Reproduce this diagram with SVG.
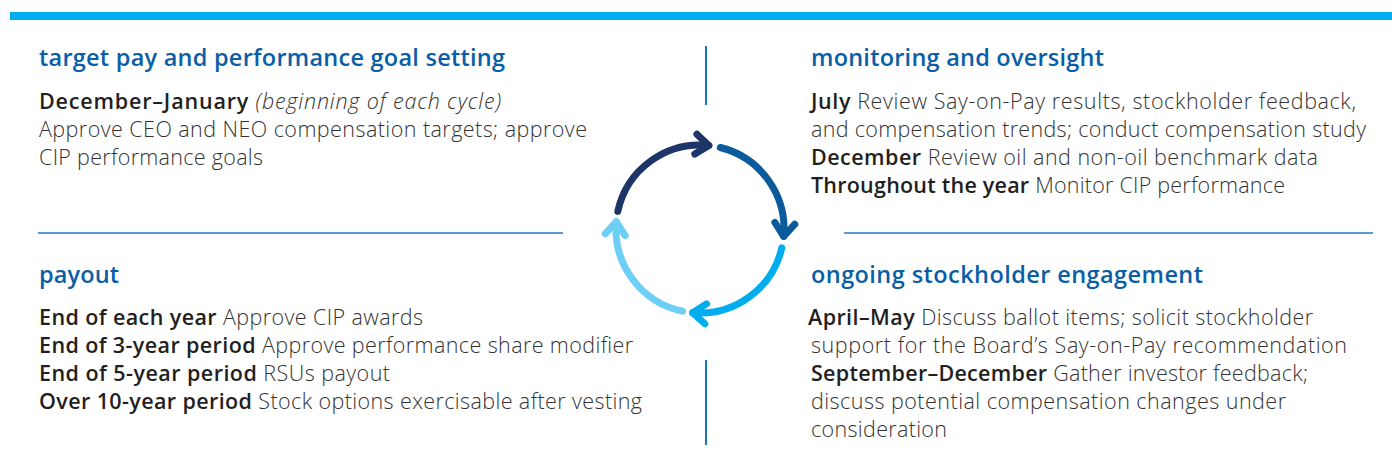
<svg xmlns="http://www.w3.org/2000/svg" width="1392" height="470" viewBox="0 0 1392 470">
<defs>
<style>
.h{font-family:"Open Sans","Liberation Sans",sans-serif;font-size:23.5px;font-weight:600;fill:#0a5ea8}
.t{font-family:"Open Sans","Liberation Sans",sans-serif;font-size:21.5px;font-weight:300;fill:#333333}
.b{font-weight:600;fill:#231f20}
.i{font-style:italic}
.div{stroke:#1a75bc;stroke-width:2}
.hr{stroke:#5b9bd5;stroke-width:2}
.arc{fill:none;stroke-width:7;stroke-linecap:round}
</style>
<marker id="m1" markerUnits="userSpaceOnUse" markerWidth="40" markerHeight="40" viewBox="-20 -20 40 40" refX="0" refY="0" orient="auto" overflow="visible"><path d="M-13,-10 L0,0 L-13,10" fill="none" stroke="#1d3567" stroke-width="7" stroke-linecap="round" stroke-linejoin="round"/></marker>
<marker id="m2" markerUnits="userSpaceOnUse" markerWidth="40" markerHeight="40" viewBox="-20 -20 40 40" refX="0" refY="0" orient="auto" overflow="visible"><path d="M-13,-10 L0,0 L-13,10" fill="none" stroke="#0a5a9c" stroke-width="7" stroke-linecap="round" stroke-linejoin="round"/></marker>
<marker id="m3" markerUnits="userSpaceOnUse" markerWidth="40" markerHeight="40" viewBox="-20 -20 40 40" refX="0" refY="0" orient="auto" overflow="visible"><path d="M-13,-10 L0,0 L-13,10" fill="none" stroke="#00aeef" stroke-width="7" stroke-linecap="round" stroke-linejoin="round"/></marker>
<marker id="m4" markerUnits="userSpaceOnUse" markerWidth="40" markerHeight="40" viewBox="-20 -20 40 40" refX="0" refY="0" orient="auto" overflow="visible"><path d="M-13,-10 L0,0 L-13,10" fill="none" stroke="#6dcff6" stroke-width="7" stroke-linecap="round" stroke-linejoin="round"/></marker>
</defs>
<rect width="1392" height="470" fill="#ffffff"/>
<rect x="10" y="12" width="1382" height="8" fill="#00aeef"/>

<g id="dividers">
<line class="div" x1="706" y1="46" x2="706" y2="105"/>
<line class="div" x1="706" y1="360" x2="706" y2="445"/>
<line class="hr" x1="38" y1="233" x2="563" y2="233"/>
<line class="hr" x1="844" y1="233" x2="1373" y2="233"/>
</g>

<g id="connectors">
<path class="arc" stroke="#1d3567" d="M617.8,211.5 A84,84 0 0 1 708.8,145.5" marker-end="url(#m1)"/>
<path class="arc" stroke="#0a5a9c" d="M720.3,147.5 A84,84 0 0 1 783.7,236.3" marker-end="url(#m2)"/>
<path class="arc" stroke="#00aeef" d="M781.8,247.9 A84,84 0 0 1 692.7,312.7" marker-end="url(#m3)"/>
<path class="arc" stroke="#6dcff6" d="M682.5,311.2 A84,84 0 0 1 616.3,221.7" marker-end="url(#m4)"/>
</g>

<g id="goal-setting">
<text class="h" x="39" y="66" textLength="466" lengthAdjust="spacing">target pay and performance goal setting</text>
<text class="t" x="39" y="109" textLength="462" lengthAdjust="spacing"><tspan class="b">December–January</tspan> <tspan class="i">(beginning of each cycle)</tspan></text>
<text class="t" x="39" y="137" textLength="548" lengthAdjust="spacing">Approve CEO and NEO compensation targets; approve</text>
<text class="t" x="39" y="165" textLength="224" lengthAdjust="spacing">CIP performance goals</text>
</g>

<g id="monitoring">
<text class="h" x="811" y="66" textLength="293" lengthAdjust="spacing">monitoring and oversight</text>
<text class="t" x="811" y="109" textLength="545" lengthAdjust="spacing"><tspan class="b">July</tspan> Review Say-on-Pay results, stockholder feedback,</text>
<text class="t" x="811" y="137" textLength="555" lengthAdjust="spacing">and compensation trends; conduct compensation study</text>
<text class="t" x="811" y="165" textLength="507" lengthAdjust="spacing"><tspan class="b">December</tspan> Review oil and non-oil benchmark data</text>
<text class="t" x="811" y="193" textLength="474" lengthAdjust="spacing"><tspan class="b">Throughout the year</tspan> Monitor CIP performance</text>
</g>

<g id="payout">
<text class="h" x="39" y="283" textLength="80" lengthAdjust="spacing">payout</text>
<text class="t" x="39" y="325" textLength="384" lengthAdjust="spacing"><tspan class="b">End of each year</tspan> Approve CIP awards</text>
<text class="t" x="39" y="353" textLength="594" lengthAdjust="spacing"><tspan class="b">End of 3-year period</tspan> Approve performance share modifier</text>
<text class="t" x="39" y="381" textLength="351" lengthAdjust="spacing"><tspan class="b">End of 5-year period</tspan> RSUs payout</text>
<text class="t" x="39" y="409" textLength="603" lengthAdjust="spacing"><tspan class="b">Over 10-year period</tspan> Stock options exercisable after vesting</text>
</g>

<g id="engagement">
<text class="h" x="811" y="283" textLength="392" lengthAdjust="spacing">ongoing stockholder engagement</text>
<text class="t" x="808" y="325" textLength="505" lengthAdjust="spacing"><tspan class="b">April–May</tspan> Discuss ballot items; solicit stockholder</text>
<text class="t" x="811" y="353" textLength="536" lengthAdjust="spacing">support for the Board’s Say-on-Pay recommendation</text>
<text class="t" x="811" y="381" textLength="497" lengthAdjust="spacing"><tspan class="b">September–December</tspan> Gather investor feedback;</text>
<text class="t" x="811" y="409" textLength="475" lengthAdjust="spacing">discuss potential compensation changes under</text>
<text class="t" x="811" y="437" textLength="136" lengthAdjust="spacing">consideration</text>
</g>
</svg>
